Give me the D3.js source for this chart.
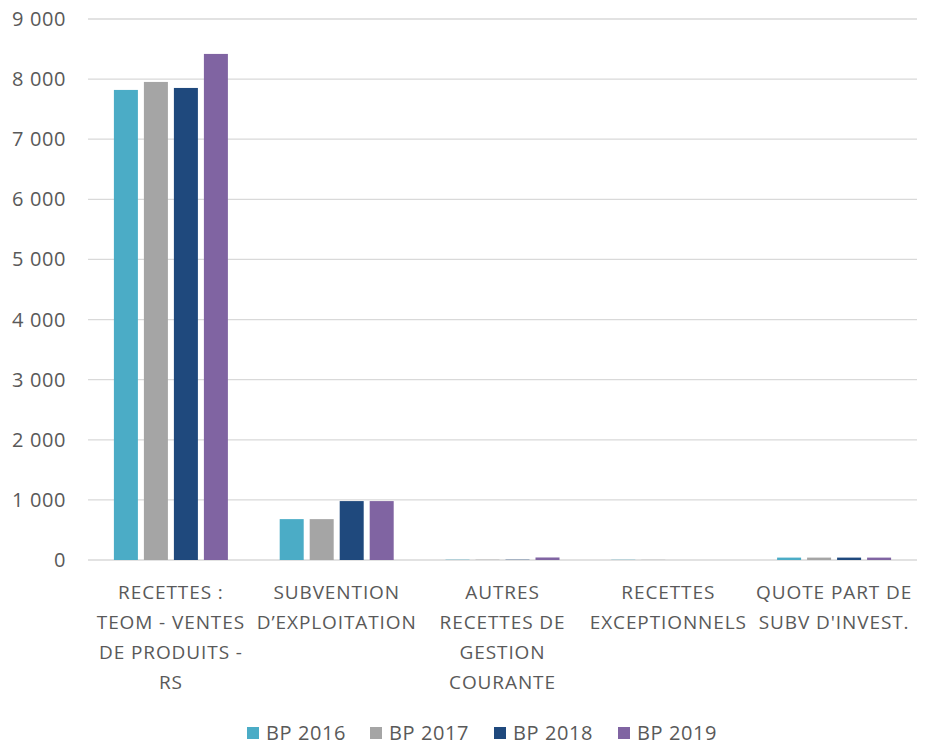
<!DOCTYPE html>
<html>
<head>
<meta charset="utf-8">
<script src="https://cdn.jsdelivr.net/npm/d3@7"></script>
<style>
  body { margin: 0; background: white; }
  text { font-family: "Open Sans", sans-serif; fill: #595959; }
</style>
</head>
<body>
<svg width="927" height="745"></svg>
<script>
const categories = [
    ["RECETTES :", "TEOM - VENTES", "DE PRODUITS -", "RS"],
    ["SUBVENTION", "D\u2019EXPLOITATION"],
    ["AUTRES", "RECETTES DE", "GESTION", "COURANTE"],
    ["RECETTES", "EXCEPTIONNELS"],
    ["QUOTE PART DE", "SUBV D'INVEST."]
];
const seriesNames = ["BP 2016", "BP 2017", "BP 2018", "BP 2019"];
const bp2016 = [7820, 680, 5, 4, 40];
const bp2017 = [7953, 680, 5, 3, 40];
const bp2018 = [7853, 980, 5, 0, 40];
const bp2019 = [8419, 980, 42, 0, 40];
const yTicks = [0, 1000, 2000, 3000, 4000, 5000, 6000, 7000, 8000, 9000];
const colors = ["#4bacc6", "#a5a5a5", "#1f497d", "#8064a2"];

const series = [bp2016, bp2017, bp2018, bp2019];
const svg = d3.select('svg');
const margin = { top: 19, left: 88, right: 10, bottom: 185 };
const innerWidth = 927 - margin.left - margin.right;
const innerHeight = 745 - margin.top - margin.bottom;

const g = svg.append('g').attr('transform', `translate(${margin.left}, ${margin.top})`);

const xScale = d3.scaleBand().domain(d3.range(categories.length)).range([0, innerWidth]);
const yScale = d3.scaleLinear().domain([0, 9000]).range([innerHeight, 0]);

const groupWidth = 114;
const xInner = d3.scaleBand().domain(d3.range(series.length))
      .range([(xScale.bandwidth() - groupWidth) / 2, (xScale.bandwidth() + groupWidth) / 2])
      .paddingInner(0.2).paddingOuter(0);

// gridlines
g.selectAll('line.grid').data(yTicks).enter().append('line')
    .attr('x1', 0).attr('x2', innerWidth)
    .attr('y1', d => yScale(d)).attr('y2', d => yScale(d))
    .attr('stroke', '#d9d9d9').attr('stroke-width', 1.3);

// y tick labels
g.selectAll('text.ytick').data(yTicks).enter().append('text')
    .attr('x', -22).attr('y', d => yScale(d)).attr('dy', '0.35em')
    .attr('text-anchor', 'end').style('font-size', '20px').style('letter-spacing', '0.6px')
    .text(d => d3.format(',')(d).replace(',', ' '));

// bars
series.forEach((values, si) => {
    g.selectAll(`rect.s${si}`).data(values).enter().append('rect')
        .attr('x', (d, i) => xScale(i) + xInner(si))
        .attr('width', xInner.bandwidth())
        .attr('y', d => yScale(d))
        .attr('height', d => innerHeight - yScale(d))
        .attr('fill', colors[si]);
});

// category labels
const labelGroups = g.selectAll('g.cat').data(categories).enter().append('g')
    .attr('transform', (d, i) => `translate(${xScale(i) + xScale.bandwidth() / 2}, ${innerHeight + 39})`);
labelGroups.selectAll('text').data(d => d).enter().append('text')
    .attr('y', (d, i) => i * 30)
    .attr('text-anchor', 'middle').style('font-size', '19px').style('letter-spacing', '0.9px')
    .text(d => d);

// legend
const legendX = [247, 370, 494, 618];
const legend = svg.selectAll('g.legend').data(seriesNames).enter().append('g')
    .attr('transform', (d, i) => `translate(${legendX[i]}, 727)`);
legend.append('rect').attr('width', 12).attr('height', 12).attr('fill', (d, i) => colors[i]);
legend.append('text').attr('x', 19).attr('y', 6).attr('dy', '0.35em')
    .style('font-size', '20px').style('letter-spacing', '0.6px').text(d => d);
</script>
</body>
</html>
